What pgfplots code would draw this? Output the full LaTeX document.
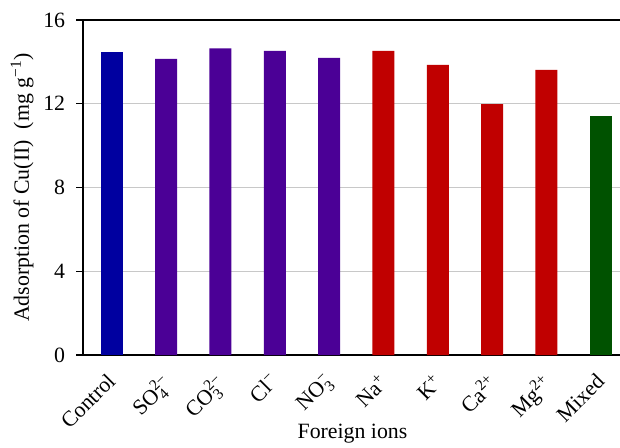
\documentclass[border=0pt]{standalone}
\usepackage{fontspec}
\setmainfont{Liberation Serif}
\usepackage{pgfplots}
\pgfplotsset{compat=1.18}
\definecolor{cblue}{HTML}{0000A0}
\definecolor{cpurple}{HTML}{4B0096}
\definecolor{cred}{HTML}{C00000}
\definecolor{cgreen}{HTML}{005200}
\definecolor{gridgray}{HTML}{C8C8C8}
\newcommand{\sm}[1]{\mbox{\fontsize{8.5}{9}\selectfont #1}}
\begin{document}
\begin{tikzpicture}
\begin{axis}[
  name=ax,
  scale only axis,
  width=299.7pt, height=184.25pt,
  xmin=-0.53, xmax=9.5,
  ymin=0, ymax=16,
  ytick={0,4,8,12,16},
  xtick={0,1,2,3,4,5,6,7,8,9},
  xticklabels={Control,
    SO$_{\sm{4}}^{\sm{2−}}$,
    CO$_{\sm{3}}^{\sm{2−}}$,
    Cl$^{\sm{−}}$,
    NO$_{\sm{3}}^{\sm{−}}$,
    Na$^{\sm{+}}$,
    K$^{\sm{+}}$,
    Ca$^{\sm{2+}}$,
    Mg$^{\sm{2+}}$,
    Mixed},
  x tick style={draw=none},
  ytick pos=left,
  tick align=outside,
  major tick length=3.8pt,
  ymajorgrids,
  grid style={gridgray, line width=0.6pt},
  axis line style={line width=0.7pt},
  y tick style={line width=0.6pt, black},
  /pgf/number format/assume math mode=true,
  ticklabel style={font=\fontsize{12}{14}\selectfont},
  xticklabel style={rotate=45, anchor=north east, inner sep=1pt, yshift=-0.5pt, xshift=-5pt},
  yticklabel style={xshift=-2.5pt},
  xlabel={Foreign ions},
  ylabel={Adsorption of Cu(II)\ \ (mg g$^{\sm{−1}}$)},
  label style={font=\fontsize{12}{14}\selectfont},
  xlabel style={at={(axis description cs:0.4946,0)}, anchor=center, yshift=-43.5pt},
  ylabel style={at={(axis description cs:0,0.5)}, anchor=center, yshift=33.5pt},
  bar width=12.1pt,
  ybar, bar shift=0pt,
]
\addplot[fill=cblue, draw=none] coordinates {(0,14.48)};
\addplot[fill=cpurple, draw=none] coordinates {(1,14.14) (2,14.65) (3,14.52) (4,14.19)};
\addplot[fill=cred, draw=none] coordinates {(5,14.52) (6,13.86) (7,11.98) (8,13.62)};
\addplot[fill=cgreen, draw=none] coordinates {(9,11.42)};
\end{axis}
\pgfresetboundingbox
\path ([shift={(-45.65pt,-51.15pt)}]ax.south west) rectangle ([shift={(295.35pt,195.25pt)}]ax.south west);
\end{tikzpicture}
\end{document}
